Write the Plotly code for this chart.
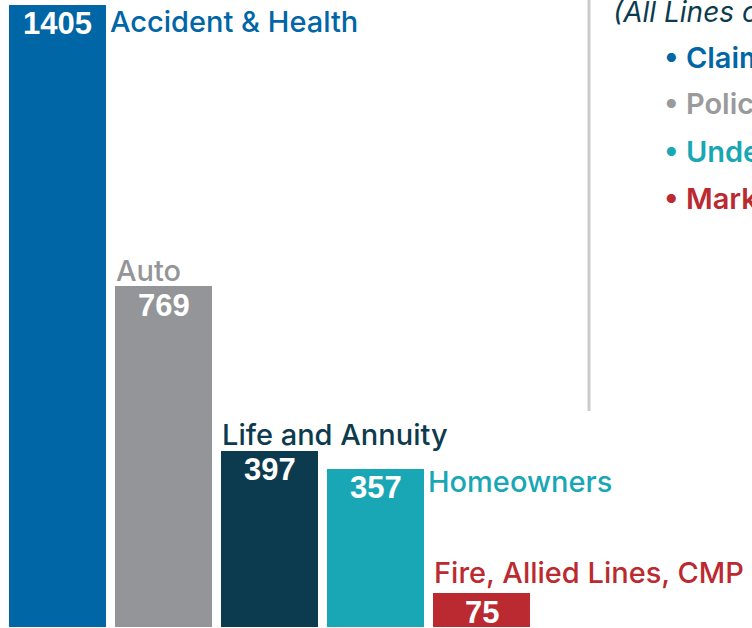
import plotly.graph_objects as go

categories = ["Accident & Health", "Auto", "Life and Annuity", "Homeowners", "Fire, Allied Lines, CMP"]
complaints = [1405, 769, 397, 357, 75]
bar_colors = ["#0066A6", "#939598", "#0C3B4F", "#19A7B6", "#BA2A30"]
label_colors = ["#0066A6", "#949598", "#0C3B4F", "#19A7B6", "#BA2A30"]
# placement style of each category label: "right" of bar or "above" bar
label_place = ["right", "above", "above", "right", "above"]

reasons_title = "(All Lines of Business)"
reasons = ["Claim Handling", "Policyholder Service", "Underwriting", "Marketing/Sales"]
reason_colors = ["#0066A6", "#9A9A9C", "#19A7B6", "#BA2A30"]

W, H = 752, 628
bar_w = 0.906
xs = list(range(len(categories)))

fig = go.Figure()
fig.add_trace(go.Bar(
    x=xs, y=complaints, width=bar_w,
    marker=dict(color=bar_colors, line=dict(width=0)),
    hoverinfo="skip",
))

ann = []
label_font = "Inter, Open Sans, Liberation Sans, Arial, sans-serif"
for i, (cat, v) in enumerate(zip(categories, complaints)):
    # value inside the top of the bar
    ann.append(dict(
        x=i, y=v, xref="x", yref="y", text=f"<b>{v}</b>", showarrow=False,
        xanchor="center", yanchor="middle", yshift=-19,
        font=dict(family="Liberation Sans, Arial, sans-serif", size=31, color="white"),
    ))
    if label_place[i] == "right":
        ys = -17 if i == 0 else -13
        ann.append(dict(
            x=i + bar_w / 2, y=v, xref="x", yref="y", text=cat, showarrow=False,
            xanchor="left", yanchor="middle", xshift=2, yshift=ys,
            font=dict(family=label_font, size=29, color=label_colors[i], weight=500),
        ))
    else:
        ys = 21 if i == 4 else 16
        ann.append(dict(
            x=i - bar_w / 2, y=v, xref="x", yref="y", text=cat, showarrow=False,
            xanchor="left", yanchor="middle", xshift=-1, yshift=ys,
            font=dict(family=label_font, size=29, color=label_colors[i], weight=500),
        ))

# right-hand panel
ann.append(dict(
    x=611 / W, y=1 - 12 / H, xref="paper", yref="paper", text=f"<i>{reasons_title}</i>",
    showarrow=False, xanchor="left", yanchor="middle",
    font=dict(family=label_font, size=28, color="#0C3B4F", weight=400),
))
for k, (r, c) in enumerate(zip(reasons, reason_colors)):
    ann.append(dict(
        x=662 / W, y=1 - (57 + 47 * k) / H, xref="paper", yref="paper",
        text=f"• {r}",
        showarrow=False, xanchor="left", yanchor="middle",
        font=dict(family=label_font, size=29, color=c, weight=600),
    ))

fig.add_shape(type="line", xref="paper", yref="paper",
              x0=589 / W, x1=589 / W, y0=1, y1=1 - 411 / H,
              line=dict(color="#CCCCCC", width=3))

fig.update_layout(
    width=W, height=H,
    margin=dict(l=0, r=0, t=0, b=0),
    paper_bgcolor="white", plot_bgcolor="white",
    showlegend=False,
    bargap=0,
    xaxis=dict(visible=False, range=[-57.5 / 106, (W - 57.5) / 106], fixedrange=True),
    yaxis=dict(visible=False, range=[-3, 1416], fixedrange=True),
    annotations=ann,
)

fig.write_html("out.html", config={"displayModeBar": False},
               post_script="document.body.style.margin='0';document.body.style.overflow='hidden';")
